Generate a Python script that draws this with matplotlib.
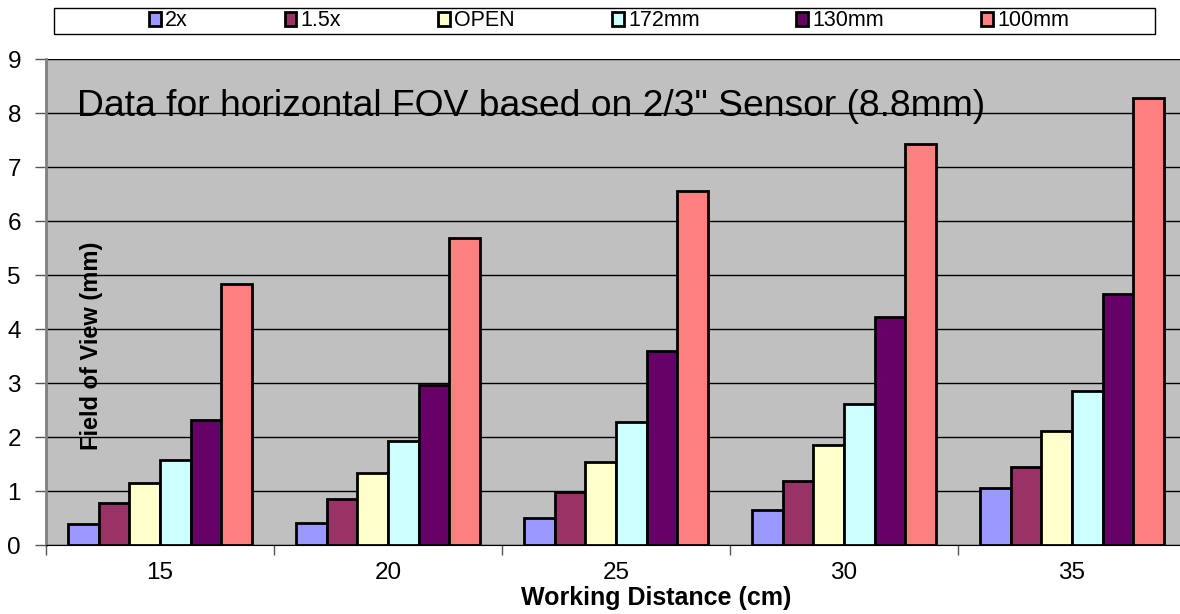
import numpy as np
import matplotlib.pyplot as plt
from matplotlib.patches import Rectangle

plt.rcParams['font.family'] = ['Liberation Sans', 'DejaVu Sans']

# =======================================================
# Data
distances = ['15', '20', '25', '30', '35']
series_names = ['2x', '1.5x', 'OPEN', '172mm', '130mm', '100mm']
fov_2x = [0.38, 0.41, 0.50, 0.65, 1.05]
fov_15x = [0.77, 0.86, 0.98, 1.19, 1.45]
fov_open = [1.14, 1.33, 1.54, 1.86, 2.12]
fov_172 = [1.57, 1.93, 2.27, 2.61, 2.86]
fov_130 = [2.31, 2.96, 3.60, 4.23, 4.65]
fov_100 = [4.83, 5.69, 6.55, 7.42, 8.28]
colors = ['#9999FF', '#993366', '#FFFFCC', '#CCFFFF', '#660066', '#FF8080']

all_series = [fov_2x, fov_15x, fov_open, fov_172, fov_130, fov_100]

# ========================================================
W, H = 1180, 614
fig = plt.figure(figsize=(W / 100, H / 100), dpi=100)
# plot area runs slightly past the right edge, like the original
ax = fig.add_axes([46 / W, 69 / H, 1140 / W, 486 / H])
ax.set_facecolor('#C0C0C0')

x = np.arange(len(distances))
bw = 0.1345
for i, (vals, name, c) in enumerate(zip(all_series, series_names, colors)):
    ax.bar(x + (i - 2.5) * bw, vals, bw, color=c, edgecolor='black',
           linewidth=2, label=name, zorder=3)

ax.set_xlim(-0.5, 4.5)
ax.set_ylim(0, 9)
ax.set_yticks(range(10))
ax.yaxis.grid(True, color='black', linewidth=1, zorder=1)
ax.set_axisbelow(True)

# category boundaries get the tick marks, centres get the labels
ax.set_xticks(np.arange(-0.5, 5.0, 1.0))
ax.set_xticklabels([])
ax.set_xticks(x, minor=True)
ax.set_xticklabels(distances, minor=True)
ax.tick_params(axis='x', which='major', length=7, width=1, color='#555555')
ax.tick_params(axis='x', which='minor', length=0, pad=12, labelsize=17.5)
ax.tick_params(axis='y', length=8, width=1, color='#555555', pad=10, labelsize=17.5)

for s in ['top', 'right']:
    ax.spines[s].set_visible(False)
ax.spines['left'].set_color('#808080')
ax.spines['left'].set_linewidth(2)
ax.spines['bottom'].set_color('black')

ax.text(31 / 1140, 7.95, 'Data for horizontal FOV based on 2/3" Sensor (8.8mm)',
        transform=ax.get_yaxis_transform(), fontsize=26.8, va='baseline', ha='left')
ax.text(0.0395, 0.41, 'Field of View (mm)', transform=ax.transAxes, rotation=90,
        fontsize=17, fontweight='bold', ha='center', va='center')
fig.text(656 / W, 1 - 598 / H, 'Working Distance (cm)', fontsize=18,
         fontweight='bold', ha='center', va='center')

# legend strip across the top
fig.patches.append(Rectangle((54 / W, 1 - 34 / H), 1101 / W, 26 / H,
                             transform=fig.transFigure, facecolor='white',
                             edgecolor='black', linewidth=1))
fig.legend(loc='center', bbox_to_anchor=(609 / W, 1 - 21 / H), ncol=6,
           frameon=False, fontsize=15.5, handlelength=0.55, handleheight=0.6,
           handletextpad=0.2, columnspacing=4.5, borderpad=0)

fig.savefig('out.png', dpi=100)
